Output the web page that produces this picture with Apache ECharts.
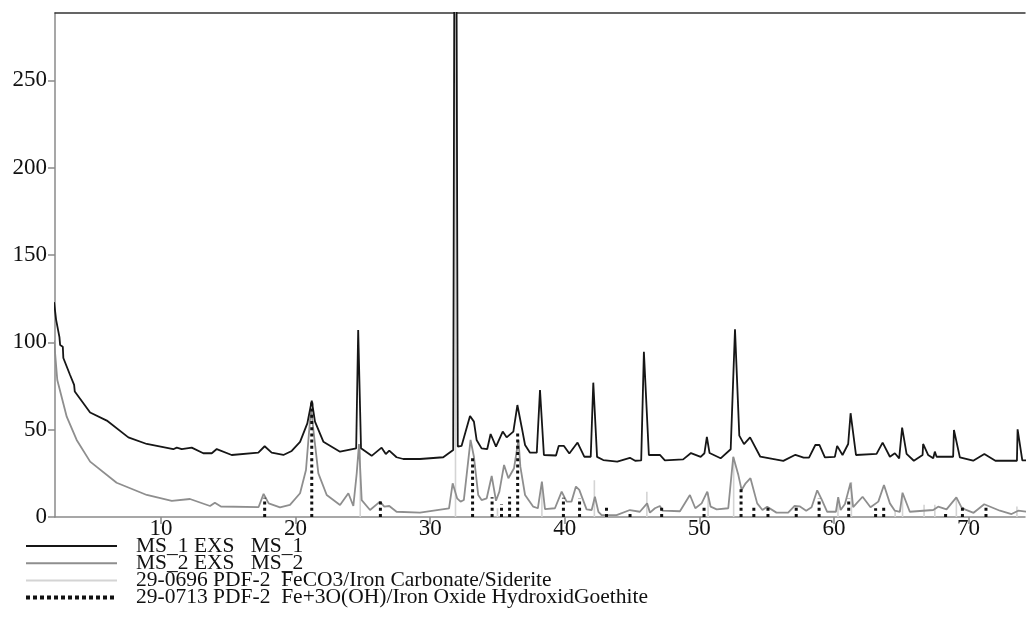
<!DOCTYPE html>
<html><head><meta charset="utf-8">
<script src="https://cdn.jsdelivr.net/npm/echarts@6/dist/echarts.min.js"></script>
<style>html,body{margin:0;padding:0;background:#fff}#c{width:1026px;height:632px}</style>
</head><body><div id="c"></div>
<script>
// Data (2-theta, counts)
const ms1 = [[2.05,123],[2.2,113],[2.45,103],[2.5,98.5],[2.7,97.5],[2.74,91],[3.24,81.3],[3.54,75.6],[3.59,71.8],[4.73,59.8],[5.97,55.2],[7.57,45.6],[8.94,41.8],[10.91,38.8],[11.17,39.7],[11.54,38.8],[12.28,39.7],[13.14,36.5],[13.77,36.5],[14.14,38.9],[15.25,35.5],[17.23,36.8],[17.7,40.5],[18.22,36.8],[19.09,35.5],[19.71,37.8],[20.33,43],[20.87,53.6],[21.2,66.6],[21.44,54.6],[22.06,43.1],[23.3,37.4],[24.5,39.3],[24.65,107],[24.86,39.3],[25.65,35],[26.39,39.7],[26.7,36],[26.96,38],[27.5,34.2],[28,33.2],[29.24,33.2],[30.97,34.2],[31.71,38.4],[31.8,330],[31.95,330],[32.05,40.3],[32.33,40.7],[32.96,57.8],[33.25,54.6],[33.45,44.1],[33.82,39.3],[34.24,38.9],[34.49,47.5],[34.89,40.3],[35.39,48.9],[35.68,45.6],[36.18,48.9],[36.48,64.1],[36.8,51.4],[37.05,41.2],[37.42,36.8],[37.92,36.8],[38.16,72.7],[38.45,35.5],[39.35,35.2],[39.55,40.7],[39.94,40.7],[40.34,36.3],[40.95,42.6],[41.45,34.5],[41.93,34.5],[42.12,76.9],[42.4,34.4],[42.86,32.6],[43.9,31.7],[44.84,33.9],[45.23,32.2],[45.68,32.4],[45.88,94.6],[46.25,35.5],[47.07,35.5],[47.44,32.4],[48.8,33],[49.38,36.6],[50.1,34.4],[50.38,36.5],[50.56,45.8],[50.76,36.6],[51.58,33.6],[52.33,38.8],[52.65,107.5],[52.97,46.6],[53.32,41.7],[53.77,45.6],[54.53,34.5],[56.24,32.1],[57.14,35.6],[57.75,34],[58.15,34],[58.62,41.2],[58.93,41.2],[59.33,34.1],[60.07,34.4],[60.24,40.7],[60.64,35.5],[61.06,41.8],[61.24,59.4],[61.64,35.5],[63.17,36.1],[63.62,42.6],[64.16,34.5],[64.53,36.5],[64.85,33.6],[65.07,51.2],[65.4,36.1],[65.94,32.2],[66.59,35.5],[66.63,41.8],[67.0,35.5],[67.38,33.6],[67.5,37.4],[67.63,34.5],[68.86,34.5],[68.92,49.8],[69.36,34.1],[70.35,32.2],[71.18,36.1],[72.0,32.2],[73.6,32.2],[73.65,50.2],[74.0,32.4],[74.3,32.4]];
const ms2 = [[2.05,101],[2.29,78.4],[2.99,57.4],[3.73,44.1],[4.73,31.7],[6.7,19.6],[8.94,12.6],[10.8,9.2],[12.15,10.3],[13.64,6.3],[14.0,8.2],[14.45,6],[17.25,5.7],[17.62,13.2],[18.0,7.8],[18.84,5.5],[19.58,6.9],[20.33,13.6],[20.77,26.9],[21.07,55.5],[21.17,61.2],[21.32,49.8],[21.69,25],[22.31,12.6],[23.3,6.9],[23.92,13.6],[24.29,6.3],[24.54,25],[24.71,41.8],[24.91,9.7],[25.53,4],[26.27,8.8],[26.59,5.9],[26.96,6.3],[27.5,3],[29.24,2.5],[31.4,5],[31.67,19.3],[32.0,10.7],[32.26,8.8],[32.5,9.7],[33.0,44.1],[33.25,34.5],[33.57,12.6],[33.82,9.7],[34.2,10.7],[34.57,23.5],[34.89,9.3],[35.14,14.5],[35.49,29.8],[35.81,22.2],[36.23,27.9],[36.56,44.1],[36.7,28.8],[37.05,12.6],[37.66,5.9],[38.0,5],[38.3,20.2],[38.53,4.5],[39.27,5],[39.77,14.5],[40.14,8.8],[40.5,8.8],[40.83,17.4],[41.08,15.5],[41.62,4.4],[42.0,4],[42.24,11.6],[42.5,3],[42.74,1.1],[43.85,1.1],[44.84,4],[45.58,3],[46.12,7.8],[46.33,2.5],[46.7,5],[47.07,6.3],[47.27,3.6],[48.56,3.3],[49.3,12.6],[49.7,5],[50.17,7.8],[50.59,14.5],[50.84,5.9],[51.29,4.4],[52.15,5],[52.52,34.5],[52.9,24],[53.14,15.5],[53.44,19.3],[53.8,22.2],[54.3,7.8],[54.69,4],[55.04,5.9],[55.73,2.5],[56.6,2.5],[57.08,6.3],[57.45,6.1],[57.94,3.6],[58.34,5.6],[58.76,15.3],[59.08,10.2],[59.5,3],[60.15,3],[60.32,11.3],[60.5,4],[60.82,7.4],[61.24,19.6],[61.43,5.6],[62.13,11.6],[62.72,5.6],[63.3,8.8],[63.72,18.3],[64.16,7.8],[64.53,3.6],[64.9,3],[65.1,13.9],[65.64,3],[67.38,4],[67.75,5.9],[68.37,4.4],[69.1,11.2],[69.48,5.5],[69.73,4.4],[70.38,2.4],[71.17,7.3],[72.34,3.6],[73.2,1.7],[73.69,3.6],[74.3,3]];
// Reference pattern sticks: [position, height]
const siderite = [[24.8,40],[31.88,330],[35.0,5],[38.3,20],[42.2,21],[46.1,14.5],[50.65,14],[52.55,34],[60.3,11],[61.3,20],[64.55,4],[65.1,13],[66.7,7],[67.5,7],[69.1,11],[73.6,6]];
const goethite = [[17.7,11],[21.2,66.5],[26.3,10.5],[33.15,33.6],[34.6,11.3],[35.3,7.4],[35.9,11.6],[36.5,48.3],[39.9,11],[41.1,10.8],[43.1,5.5],[44.85,3],[47.2,6.9],[50.35,7.2],[53.1,17.2],[54.05,6.1],[55.1,5.9],[57.2,6.6],[58.9,10.7],[61.1,10.7],[63.1,5],[63.7,6.9],[68.3,3],[69.55,5.3],[71.3,5.9]];
const xTicks = [10,20,30,40,50,60,70];
const yTicks = [0,50,100,150,200,250];
const names = ['MS_1 EXS   MS_1','MS_2 EXS   MS_2','29-0696 PDF-2  FeCO3/Iron Carbonate/Siderite','29-0713 PDF-2  Fe+3O(OH)/Iron Oxide HydroxidGoethite'];

function sticks(arr){const out=[];arr.forEach(([x,h])=>{out.push([x,0],[x,h],[x,'-']);});return out;}
const FONT='"Liberation Serif", "DejaVu Serif", serif';
const chart = echarts.init(document.getElementById('c'));
chart.setOption({
  animation:false,
  backgroundColor:'#fff',
  grid:{left:55,right:1,top:13,bottom:115},
  legend:{
    orient:'vertical', left:24, top:535, height:97, padding:0,
    itemWidth:91, itemHeight:14, itemGap:-4.8,
    itemStyle:{opacity:0},
    data:[names[0],names[1],names[2],{name:names[3],lineStyle:{width:4,type:[4,3]}}],
    textStyle:{fontFamily:FONT,fontSize:21.5,color:'#111',padding:[0,0,0,14]},
    selectedMode:false
  },
  xAxis:[{
    type:'value', min:2.12, max:74.2, position:'bottom',
    axisLine:{show:true,lineStyle:{color:'#8a8a8a',width:1.5}},
    axisTick:{show:true,customValues:xTicks,length:7,lineStyle:{color:'#8a8a8a',width:1.5}},
    axisLabel:{customValues:xTicks,fontFamily:FONT,fontSize:23,color:'#111',margin:0},
    splitLine:{show:false}
  },{
    type:'value', min:2.12, max:74.2, position:'top',
    axisLine:{show:true,onZero:false,lineStyle:{color:'#333',width:1.5}},
    axisTick:{show:false}, axisLabel:{show:false}, splitLine:{show:false}
  }],
  yAxis:{
    type:'value', min:0, max:288.5,
    axisLine:{show:true,lineStyle:{color:'#8a8a8a',width:1.5}},
    axisTick:{show:true,customValues:yTicks,length:7,lineStyle:{color:'#8a8a8a',width:1.5}},
    axisLabel:{customValues:yTicks,fontFamily:FONT,fontSize:23,color:'#111',margin:8},
    splitLine:{show:false}
  },
  series:[
    {name:names[2],type:'line',data:sticks(siderite),symbol:'none',connectNulls:false,z:1,
     lineStyle:{color:'#d4d4d4',width:1.6},itemStyle:{color:'#d4d4d4'}},
    {name:names[1],type:'line',data:ms2,symbol:'none',z:2,
     lineStyle:{color:'#8e8e8e',width:1.8},itemStyle:{color:'#8e8e8e'}},
    {name:names[0],type:'line',data:ms1,symbol:'none',z:3,
     lineStyle:{color:'#161616',width:1.8},itemStyle:{color:'#161616'}},
    {name:names[3],type:'line',data:sticks(goethite),symbol:'none',connectNulls:false,z:4,
     lineStyle:{color:'#111',width:3,type:[3,3.2],cap:'butt'},itemStyle:{color:'#111'}}
  ]
});
</script></body></html>
